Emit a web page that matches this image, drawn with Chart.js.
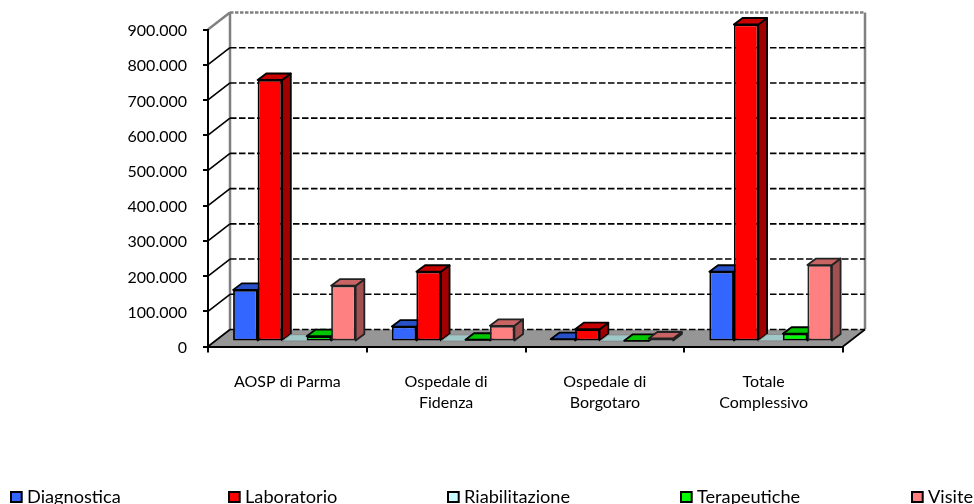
<!DOCTYPE html>
<html><head><meta charset="utf-8">
<style>html,body{margin:0;padding:0;background:#fff}canvas{display:block}</style>
<script src="https://cdn.jsdelivr.net/npm/chart.js@4"></script>
</head><body><canvas id="c" width="974" height="504"></canvas>
<script>
const categories = [["AOSP di Parma"],["Ospedale di","Fidenza"],["Ospedale di","Borgotaro"],["Totale","Complessivo"]];
const diagnostica = [146500,42500,6500,198000];
const laboratorio = [742500,198000,35000,900000];
const riabilitazione = [1000,500,300,1500];
const terapeutiche = [15000,5000,2000,22000];
const visite = [158500,44500,8500,217000];
const seriesNames = ["Diagnostica","Laboratorio","Riabilitazione","Terapeutiche","Visite"];
const frontColors = ["#3366FF","#FF0000","#CCFFFF","#00FF00","#FF8080"];
const topColors = ["#2850C8","#C80000","#9FC8C8","#00C800","#C86464"];
const sideColors = ["#2040A0","#A00000","#80A0A0","#00A000","#A05050"];
const edgeColors = ["#000","#000","#8A8A8A","#000","#222"];
const yMax = 900000, yStep = 100000;

const WALL = {dx:22, dy:17};       // depth of the floor / walls
const BAR_OFF = {dx:7, dy:5};      // bars' front face behind the axis plane
const BAR_D = {dx:8.7, dy:6.5};    // depth of one bar
const legendX = [10,228,447,680,911];

function line(ctx,x0,y0,x1,y1){ctx.beginPath();ctx.moveTo(x0,y0);ctx.lineTo(x1,y1);ctx.stroke();}
function poly(ctx,pts,fill){ctx.beginPath();pts.forEach((p,i)=>i?ctx.lineTo(p[0],p[1]):ctx.moveTo(p[0],p[1]));ctx.closePath();ctx.fillStyle=fill;ctx.fill();ctx.stroke();}

const box3d = {
  id:'box3d',
  beforeDatasetsDraw(chart){
    const {ctx,chartArea:a,scales:{y}} = chart;
    const L=a.left,R=a.right,B=y.getPixelForValue(0);
    ctx.save();
    // floor
    ctx.beginPath();ctx.moveTo(L,B);ctx.lineTo(R,B);ctx.lineTo(R+WALL.dx,B-WALL.dy);ctx.lineTo(L+WALL.dx,B-WALL.dy);ctx.closePath();
    ctx.fillStyle='#969696';ctx.fill();
    // back walls' edges
    ctx.strokeStyle='#808080';ctx.lineWidth=2.5;
    const T=y.getPixelForValue(yMax);
    line(ctx,L+WALL.dx,T-WALL.dy,L+WALL.dx,B-WALL.dy);
    line(ctx,R+WALL.dx,T-WALL.dy,R+WALL.dx,B-WALL.dy);
    // gridlines along side wall and back wall
    y.ticks.forEach(t=>{
      const p=y.getPixelForValue(t.value), top=t.value===yMax;
      ctx.setLineDash([]);
      ctx.strokeStyle=top?'#808080':'#000';ctx.lineWidth=top?2.5:1.6;
      line(ctx,L,p,L+WALL.dx,p-WALL.dy);
      ctx.setLineDash(top?[3.5,1.5]:[6.5,2.5]);
      line(ctx,L+WALL.dx,p-WALL.dy,R+WALL.dx,p-WALL.dy);
    });
    ctx.setLineDash([]);
    ctx.strokeStyle='#000';ctx.lineWidth=1.6;
    line(ctx,R,B,R+WALL.dx,B-WALL.dy);
    // datasets, left to right, each bar with its depth faces
    chart.getSortedVisibleDatasetMetas().slice().sort((m,n)=>m.index-n.index).forEach(meta=>{
      const i=meta.index;
      ctx.save();
      ctx.translate(BAR_OFF.dx,-BAR_OFF.dy);
      ctx.strokeStyle=edgeColors[i];ctx.lineWidth=i===2?1:1.8;ctx.lineJoin='round';
      meta.data.forEach(el=>{
        const {x,y:yy,base,width}=el.getProps(['x','y','base','width'],true);
        const l=x-width/2,r=x+width/2,dx=BAR_D.dx,dy=BAR_D.dy;
        poly(ctx,[[r,yy],[r+dx,yy-dy],[r+dx,base-dy],[r,base]],sideColors[i]);
        poly(ctx,[[l,yy],[r,yy],[r+dx,yy-dy],[l+dx,yy-dy]],topColors[i]);
      });
      meta.controller.draw();
      ctx.restore();
    });
    ctx.restore();
    return false;
  },
  afterDraw(chart){
    const ctx=chart.ctx;
    ctx.save();
    ctx.font='18.2px Lato';ctx.textBaseline='middle';ctx.textAlign='left';
    chart.data.datasets.forEach((d,i)=>{
      ctx.fillStyle=d.backgroundColor;ctx.strokeStyle='#000';ctx.lineWidth=2;
      ctx.beginPath();ctx.rect(legendX[i]+1,492,10.7,10);ctx.fill();ctx.stroke();
      ctx.fillStyle='#000';
      ctx.fillText(d.label,legendX[i]+17,497);
    });
    ctx.restore();
  }
};

const values=[diagnostica,laboratorio,riabilitazione,terapeutiche,visite];
new Chart(document.getElementById('c'),{
  type:'bar',
  data:{labels:categories,datasets:seriesNames.map((n,i)=>({
    label:n,data:values[i],backgroundColor:frontColors[i],borderColor:edgeColors[i],borderWidth:i===2?1:1.8,
    borderSkipped:false,clip:false,categoryPercentage:0.772,barPercentage:1
  }))},
  plugins:[box3d],
  options:{
    responsive:false,animation:false,devicePixelRatio:1,
    layout:{padding:{top:29.5,left:0,right:131,bottom:0}},
    plugins:{legend:{display:false},tooltip:{enabled:false},title:{display:false}},
    scales:{
      x:{
        afterFit(s){s.height=157.5;},
        grid:{drawOnChartArea:false,drawTicks:true,tickLength:6,color:'#000',lineWidth:2},
        border:{color:'#000',width:2,z:1},
        ticks:{color:'#000',font:{family:'Lato',size:16,lineHeight:1.3},padding:19,maxRotation:0,autoSkip:false}
      },
      y:{
        min:0,max:yMax,
        afterFit(s){s.width=208;},
        grid:{drawOnChartArea:false,drawTicks:true,tickLength:5,color:'#000',lineWidth:2},
        border:{color:'#000',width:2,z:1},
        ticks:{stepSize:yStep,color:'#000',font:{family:'Lato',size:16},padding:16,labelOffset:1.5,
          callback:v=>String(v).replace(/\B(?=(\d{3})+$)/g,'.')}
      }
    }
  }
});
</script></body></html>
